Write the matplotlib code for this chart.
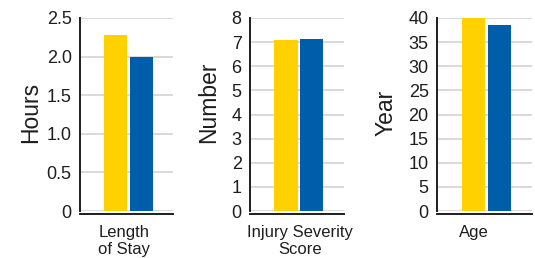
import matplotlib
matplotlib.use("Agg")
import matplotlib.pyplot as plt

plt.rcParams['font.family'] = ['Liberation Sans', 'DejaVu Sans']

# Data
categories = ["Length\nof Stay", "Injury Severity\nScore", "Age"]
ylabels = ["Hours", "Number", "Year"]
series_a = [2.28, 7.1, 40.0]   # yellow
series_b = [2.0, 7.15, 38.5]   # blue
ymax = [2.5, 8, 40]
yticks = [[0, 0.5, 1.0, 1.5, 2.0, 2.5], list(range(0, 9)), list(range(0, 45, 5))]
ytick_labels = [["0", "0.5", "1.0", "1.5", "2.0", "2.5"],
                [str(v) for v in range(0, 9)],
                [str(v) for v in range(0, 45, 5)]]

yellow = "#FFD100"
blue = "#005DAA"
ink = "#1e1e1e"

W, H = 535, 258
fig = plt.figure(figsize=(W / 100, H / 100), dpi=100)

# layout (pixels): left, right of each axes
boxes = [(80, 173), (250, 344), (437, 532)]
top_px, bot_px = 18, 211
label_x = [-0.41, -0.32, -0.42]
label_y = [0.51, 0.565, 0.51]
tick_pos = [-0.17, 0.03, -0.5]

for i in range(3):
    l, r = boxes[i]
    ax = fig.add_axes([l / W, (H - bot_px) / H, (r - l) / W, (bot_px - top_px) / H])
    ax.bar([-0.5], [series_a[i]], width=0.9, color=yellow, zorder=3)
    ax.bar([0.5], [series_b[i]], width=0.9, color=blue, zorder=3)
    ax.set_xlim(-1.9, 1.75)
    ax.set_ylim(0, ymax[i])
    ax.set_yticks(yticks[i])
    ax.set_yticklabels(ytick_labels[i])
    ax.set_xticks([tick_pos[i]])
    ax.set_xticklabels([categories[i]], linespacing=1.1)
    ax.tick_params(axis='y', length=0, pad=6, labelsize=13, colors=ink)
    ax.tick_params(axis='x', length=0, pad=8, labelsize=12, colors=ink)
    ax.grid(axis='y', color="#d9d9d9", linewidth=1.4, zorder=0)
    ax.set_axisbelow(True)
    for s in ['top', 'right']:
        ax.spines[s].set_visible(False)
    for s in ['left', 'bottom']:
        ax.spines[s].set_color(ink)
        ax.spines[s].set_linewidth(1.4)
    ax.spines['bottom'].set_position(('outward', 2))
    ax.set_ylabel(ylabels[i], fontsize=16.5, color=ink)
    ax.yaxis.set_label_coords(label_x[i], label_y[i])

fig.savefig("out.png", dpi=100)
